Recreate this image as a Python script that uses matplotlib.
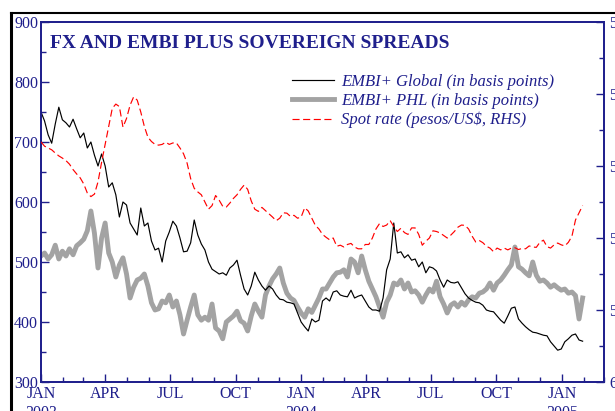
import matplotlib
matplotlib.use("Agg")
import matplotlib.pyplot as plt
import matplotlib.dates as mdates
from matplotlib.lines import Line2D
from matplotlib.ticker import MultipleLocator, FuncFormatter
import pandas as pd
import numpy as np

# ---------------- data ----------------
start_date = "2003-01-01"
step = "5D"

embi_global = [750, 735, 712, 698, 730, 758, 737, 732, 725, 738,
               722, 707, 715, 690, 700, 678, 660, 680, 660, 625,
               632, 612, 575, 600, 595, 565, 555, 545, 590, 560,
               565, 535, 520, 523, 500, 535, 550, 568, 560, 540,
               517, 518, 532, 570, 545, 530, 520, 500, 488, 484,
               480, 482, 478, 490, 495, 503, 478, 455, 445, 460,
               483, 470, 460, 453, 460, 455, 445, 438, 437, 433,
               432, 430, 415, 400, 392, 385, 405, 400, 403, 435,
               440, 435, 450, 452, 445, 443, 442, 453, 440, 443,
               445, 435, 425, 420, 420, 418, 440, 487, 505, 565,
               515, 517, 507, 512, 503, 505, 492, 500, 482, 492,
               490, 485, 470, 458, 470, 466, 465, 467, 457, 447,
               440, 436, 433, 432, 428, 420, 418, 417, 410, 403,
               398, 410, 423, 425, 405, 398, 392, 387, 383, 382,
               380, 378, 377, 367, 360, 353, 355, 367, 372, 378,
               380, 370, 368]

embi_phl = [510, 515, 505, 512, 528, 505, 518, 510, 522, 512,
            527, 532, 538, 552, 585, 548, 490, 540, 565, 515,
            500, 475, 495, 507, 480, 440, 458, 470, 473, 480,
            460, 432, 420, 422, 435, 432, 445, 425, 435, 412,
            380, 403, 425, 445, 412, 403, 408, 403, 430, 390,
            385, 372, 400, 405, 410, 418, 402, 398, 385, 410,
            430, 418, 408, 445, 460, 472, 480, 490, 465, 448,
            440, 436, 425, 415, 408, 422, 416, 428, 440, 455,
            455, 465, 475, 482, 483, 487, 475, 505, 500, 482,
            510, 487, 468, 455, 442, 425, 408, 433, 445, 465,
            462, 470, 455, 465, 450, 452, 445, 433, 445, 455,
            450, 468, 442, 430, 415, 428, 432, 425, 433, 428,
            437, 442, 440, 448, 450, 455, 465, 453, 465, 470,
            478, 487, 495, 525, 492, 488, 482, 477, 500, 478,
            468, 470, 465, 458, 462, 457, 453, 455, 448, 450,
            444, 405, 440]

spot_rate = [53.33, 53.45, 53.50, 53.55, 53.64, 53.72, 53.78, 53.85, 53.95, 54.10,
             54.22, 54.33, 54.50, 54.75, 54.85, 54.78, 54.44, 53.90, 53.40, 52.90,
             52.40, 52.28, 52.35, 52.92, 52.68, 52.31, 52.08, 52.17, 52.50, 52.90,
             53.20, 53.32, 53.40, 53.42, 53.40, 53.34, 53.40, 53.36, 53.36, 53.50,
             53.66, 53.92, 54.35, 54.62, 54.72, 54.80, 55.00, 55.20, 55.10, 54.82,
             54.95, 55.12, 55.14, 55.03, 54.90, 54.80, 54.65, 54.53, 54.65, 54.97,
             55.20, 55.26, 55.15, 55.24, 55.33, 55.42, 55.52, 55.45, 55.30, 55.31,
             55.40, 55.37, 55.45, 55.42, 55.16, 55.25, 55.45, 55.65, 55.75, 55.90,
             55.98, 56.05, 56.00, 56.23, 56.20, 56.25, 56.18, 56.15, 56.25, 56.30,
             56.30, 56.18, 56.18, 56.00, 55.75, 55.60, 55.68, 55.64, 55.52, 55.68,
             55.82, 55.73, 55.85, 55.90, 55.72, 55.72, 55.90, 56.20, 56.09, 56.00,
             55.80, 55.82, 55.86, 55.93, 56.00, 55.92, 55.82, 55.70, 55.64, 55.65,
             55.75, 55.95, 56.11, 56.07, 56.13, 56.23, 56.28, 56.38, 56.28, 56.33,
             56.28, 56.33, 56.28, 56.27, 56.32, 56.29, 56.30, 56.22, 56.25, 56.26,
             56.12, 56.06, 56.24, 56.28, 56.19, 56.14, 56.19, 56.22, 56.12, 55.95,
             55.50, 55.30, 55.10]

labels = ["EMBI+ Global (in basis points)",
          "EMBI+ PHL (in basis points)",
          "Spot rate (pesos/US$, RHS)"]
title = "FX AND EMBI PLUS SOVEREIGN SPREADS"

dates = pd.date_range(start_date, periods=len(embi_global), freq=step)

# ---------------- styling ----------------
NAVY = "#1f1f8c"
GRAY = "#a3a3a3"
plt.rcParams["font.family"] = ["Liberation Serif", "DejaVu Serif"]

fig = plt.figure(figsize=(6.15, 4.11), dpi=100)
ax = fig.add_axes([41 / 615, 1 - 382 / 411, 563 / 615, 360 / 411])
ax2 = ax.twinx()

ax.plot(dates, embi_phl, color=GRAY, lw=3.5, zorder=2)
ax.plot(dates, embi_global, color="black", lw=0.85, zorder=3)
ax2.plot(dates, spot_rate, color="red", lw=0.85, linestyle=(0, (6, 3)), zorder=3)

ax.set_ylim(300, 900)
ax2.set_ylim(60, 50)
ax.set_xlim(pd.Timestamp("2003-01-01"), pd.Timestamp("2005-03-01"))

ax.yaxis.set_major_locator(MultipleLocator(100))
ax.yaxis.set_minor_locator(MultipleLocator(50))
ax2.yaxis.set_major_locator(MultipleLocator(2))
ax2.yaxis.set_minor_locator(MultipleLocator(1))

ax.xaxis.set_major_locator(mdates.MonthLocator(bymonth=[1, 4, 7, 10]))
ax.xaxis.set_minor_locator(mdates.MonthLocator())


def fmt_date(x, pos=None):
    d = mdates.num2date(x)
    s = d.strftime("%b").upper()
    if d.month == 1:
        s += "\n" + str(d.year)
    return s


ax.xaxis.set_major_formatter(FuncFormatter(fmt_date))

for a in (ax, ax2):
    for sp in a.spines.values():
        sp.set_color(NAVY)
        sp.set_linewidth(1.3)
    a.tick_params(which="both", direction="in", colors=NAVY, width=1.0,
                  labelsize=11.5, labelcolor=NAVY)
    a.tick_params(which="major", length=6)
    a.tick_params(which="minor", length=3.5)

ax.tick_params(axis="y", pad=2)
ax.tick_params(axis="x", pad=3)
ax2.tick_params(axis="y", pad=4)

ax.text(9 / 563, (382 - 44) / 360, title, transform=ax.transAxes,
        fontsize=14, fontweight="bold", color=NAVY, va="center", ha="left")

handles = [Line2D([], [], color="black", lw=0.85),
           Line2D([], [], color=GRAY, lw=3.5),
           Line2D([], [], color="red", lw=0.85, linestyle=(0, (6, 3)))]
leg = ax.legend(handles, labels, loc="upper left",
                bbox_to_anchor=((292 - 41) / 563, (382 - 74) / 360),
                frameon=False, borderpad=0, borderaxespad=0,
                handlelength=2.5, handletextpad=0.45, labelspacing=0.18,
                prop={"style": "italic", "size": 12})
for t in leg.get_texts():
    t.set_color(NAVY)

# outer frame (partially cropped box around the figure)
fig.add_artist(Line2D([11 / 615, 11 / 615], [0, 1 - 13 / 411],
                      transform=fig.transFigure, color="black", lw=2.2))
fig.add_artist(Line2D([11 / 615, 1], [1 - 13 / 411, 1 - 13 / 411],
                      transform=fig.transFigure, color="black", lw=1.5))

fig.savefig("out.png", dpi=100)
